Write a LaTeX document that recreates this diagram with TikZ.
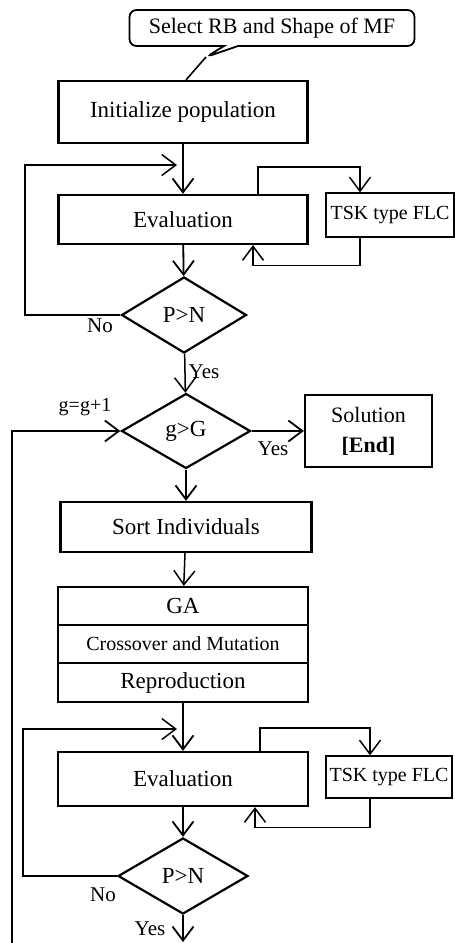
\documentclass[tikz,border=0pt]{standalone}
\usepackage{fontspec}
\setmainfont{Liberation Serif}
\usetikzlibrary{shapes.geometric,shapes.callouts,arrows.meta}

\begin{document}
\begin{tikzpicture}[x=1pt,y=-1pt,
  box/.style={draw,line width=2.2pt,inner sep=0pt},
  smallbox/.style={draw,line width=1.3pt,inner sep=0pt,font=\fontsize{20}{24}\selectfont},
  dec/.style={draw,diamond,line width=2.2pt,inner sep=0pt},
  arr/.style={line width=1.8pt,-{Straight Barb[length=14pt,width=21pt]}},
  lbl/.style={inner sep=0pt,font=\fontsize{21}{24}\selectfont}]
\tikzstyle{every node}+=[font=\fontsize{23}{26}\selectfont]
\useasboundingbox (0,0) rectangle (455,943);
% top part
\coordinate (tip) at (206,57);
\node [draw,line width=1.8pt,rectangle callout,rounded corners=7pt,callout absolute pointer={(tip)},
  callout pointer width=14pt,minimum width=285pt,minimum height=36pt,inner sep=0pt,
  font=\fontsize{22}{26}\selectfont] (sel) at (272,28) {Select RB and Shape of MF};
\node [box,minimum width=249pt,minimum height=62pt] (init) at (183,112) {Initialize population};
\node [box,minimum width=249pt,minimum height=49pt] (eval1) at (183,219.5) {Evaluation};
\node [smallbox,minimum width=128pt,minimum height=44pt] (tsk1) at (390,215) {TSK type FLC};
\node [dec,minimum width=125pt,minimum height=76pt] (dec1) at (184,315) {P>N};
\coordinate (lp1) at (25,165);
\coordinate (lp1end) at (177,165);
\draw [line width=1.6pt] (tip) -- ([xshift=3pt]init.north);
\draw [arr] (init) -- (eval1);
\draw [arr] (eval1) -- (dec1);
\draw [arr,line width=1.5pt] (dec1.west) -| (lp1) -- (lp1end);
\draw [arr,line width=1.5pt] ([xshift=75pt]eval1.north) -- ++(0,-27) -| ([xshift=-30pt]tsk1.north);
\draw [arr,line width=1.5pt] ([xshift=-30pt]tsk1.south) -- ++(0,28) -| ([xshift=70pt]eval1.south);
\node [lbl] (no1) at (100,326) {No};
% generation loop
\node [dec,minimum width=129pt,minimum height=75pt] (dec2) at (186,431) {g>G};
\node [box,minimum width=127pt,minimum height=72pt,align=center,font=\fontsize{22}{30}\selectfont] (sol) at (368.5,431) {Solution\\\textbf{[End]}};
\node [box,minimum width=251pt,minimum height=50pt] (sort) at (186,527) {Sort Individuals};
\node [box,minimum width=250pt,minimum height=38pt] (ga1) at (183,606) {GA};
\node [box,minimum width=250pt,minimum height=38pt,font=\fontsize{20}{24}\selectfont] (ga2) at (183,644) {Crossover and Mutation};
\node [box,minimum width=250pt,minimum height=39pt] (ga3) at (183,682.5) {Reproduction};
\coordinate (bot) at (12,943);
\draw [arr,line width=1.5pt] (dec1) -- node [lbl,right=3pt,pos=0.45] (yes1) {Yes} (dec2);
\draw [arr] (dec2) -- (sol);
\node [lbl] (yes2) at (273,449) {Yes};
\draw [arr] (bot) |- (dec2.west);
\node [lbl,font=\fontsize{20}{24}\selectfont] (gg) at (85,407) {g=g+1};
\draw [arr] (dec2) -- (sort);
\draw [arr,line width=1.5pt] (sort) -- (ga1);
% second evaluation
\node [box,minimum width=250pt,minimum height=54pt] (eval2) at (183,779) {Evaluation};
\node [smallbox,minimum width=126pt,minimum height=42pt] (tsk2) at (389,777) {TSK type FLC};
\node [dec,minimum width=130pt,minimum height=76pt] (dec3) at (183,876) {P>N};
\coordinate (lp2) at (23,729);
\coordinate (lp2end) at (177,729);
\coordinate (out) at (183,942);
\draw [arr] (ga3) -- (eval2);
\draw [arr] (eval2) -- (dec3);
\draw [arr,line width=1.5pt] (dec3.west) -| (lp2) -- (lp2end);
\draw [arr,line width=1.5pt] ([xshift=77pt]eval2.north) -- ++(0,-23) -| ([xshift=-19pt]tsk2.north);
\draw [arr,line width=1.5pt] ([xshift=-19pt]tsk2.south) -- ++(0,29) -| ([xshift=72pt]eval2.south);
\draw [arr] (dec3) -- (out);
\node [lbl] (no2) at (103,895) {No};
\node [lbl] (yes3) at (150,929) {Yes};
\end{tikzpicture}
\end{document}
